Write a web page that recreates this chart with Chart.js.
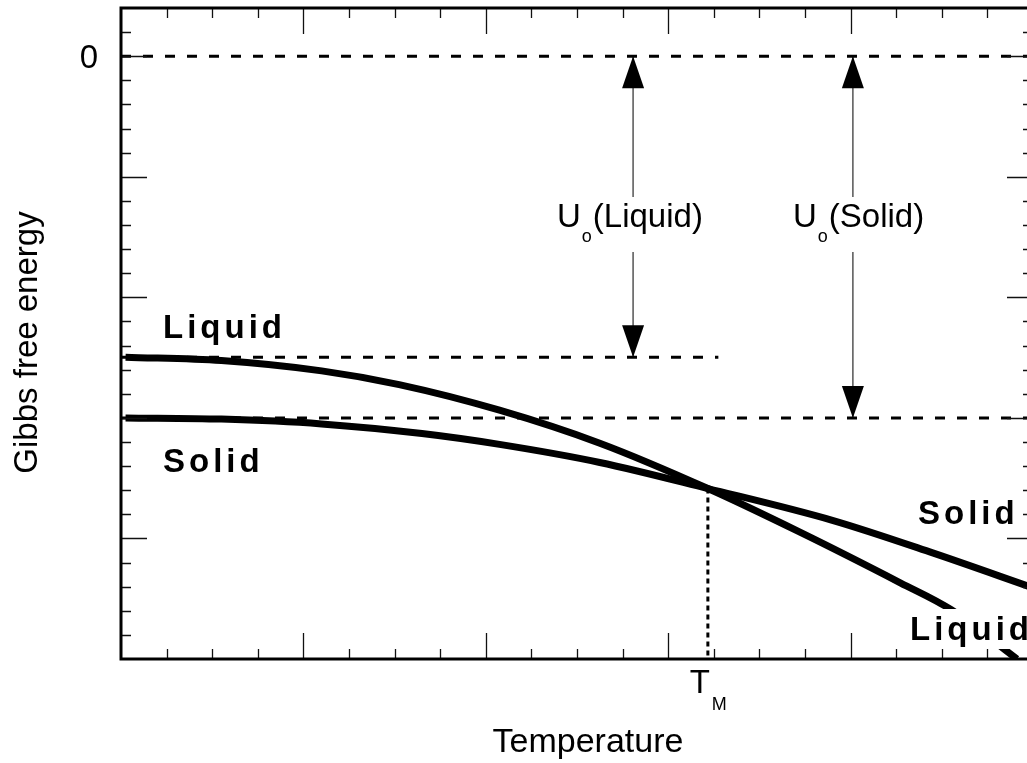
<!DOCTYPE html>
<html lang="en">
<head>
<meta charset="UTF-8">
<title>Gibbs free energy vs temperature</title>
<script src="https://cdn.jsdelivr.net/npm/chart.js"></script>
<style>
  html, body { margin: 0; padding: 0; background: #fff; overflow: hidden; }
  #wrap { width: 1040px; height: 763px; }
</style>
</head>
<body>
<div id="wrap"><canvas id="gibbs" width="1040" height="763"></canvas></div>
<script>
// curves (arbitrary units: temperature on x, free energy on y)
const liquidT = [0.1, 2.2, 4.4, 6.1, 8.3, 10.5, 12.87, 14.9, 17.1, 18.2, 19.65];
const liquidG = [-12.48, -12.62, -13.05, -13.62, -14.68, -16.05, -17.93, -19.75, -21.85, -22.95, -25.0];
const solidT = [0.1, 2.2, 4.4, 6.6, 8.3, 10.5, 12.87, 15.6, 17.8, 20];
const solidG = [-15.0, -15.05, -15.25, -15.65, -16.1, -16.85, -17.93, -19.25, -20.6, -22.05];

// reference levels
const zeroLevel = 0;
const liquidLevel = -12.48;
const solidLevel = -15;
const liquidLevelEnd = 13.1;
const meltT = 12.87;
const meltG = -17.93;
const arrowLiquidT = 11.23;
const arrowSolidT = 16.05;

// ticks
const xMajor = [4, 8, 12, 16];
const xMinor = [1, 2, 3, 5, 6, 7, 9, 10, 11, 13, 14, 15, 17, 18, 19];
const yMajor = [0, -5, -10, -15, -20];
const yMinor = [1, -1, -2, -3, -4, -6, -7, -8, -9, -11, -12, -13, -14, -16, -17, -18, -19, -21, -22, -23, -24];
const yLabelValues = [0];
const yLabelTexts = ['0'];

const FONT = '"Liberation Sans", Arial, Helvetica, sans-serif';

function pts(xs, ys) { return xs.map((x, i) => ({ x: x, y: ys[i] })); }

function spaced(ctx, text, x, y, gap) {
  for (const ch of text) {
    ctx.fillText(ch, x, y);
    x += ctx.measureText(ch).width + gap;
  }
  return x;
}

function boldLabel(ctx, text, x, y, bg) {
  ctx.font = 'bold 33px ' + FONT;
  ctx.textAlign = 'left';
  ctx.textBaseline = 'alphabetic';
  if (bg) {
    ctx.fillStyle = '#fff';
    ctx.fillRect(bg[0], bg[1], bg[2], bg[3]);
  }
  ctx.fillStyle = '#000';
  spaced(ctx, text, x, y, 4);
}

function uLabel(ctx, rest, x, y) {
  ctx.textAlign = 'left';
  ctx.textBaseline = 'alphabetic';
  ctx.font = '33px ' + FONT;
  const wU = ctx.measureText('U').width;
  ctx.font = '18px ' + FONT;
  const wo = ctx.measureText('o').width;
  ctx.font = '33px ' + FONT;
  const wr = ctx.measureText(rest).width;
  ctx.fillStyle = '#fff';
  ctx.fillRect(x - 4, y - 30, wU + wo + wr + 8, 55);
  ctx.fillStyle = '#000';
  ctx.fillText('U', x, y);
  ctx.font = '18px ' + FONT;
  ctx.fillText('o', x + wU + 1, y + 15);
  ctx.font = '33px ' + FONT;
  ctx.fillText(rest, x + wU + wo + 2, y);
}

const extras = {
  id: 'extras',
  afterDatasetsDraw(chart) {
    const ctx = chart.ctx;
    const xs = chart.scales.x, ys = chart.scales.y;
    const a = chart.chartArea;
    ctx.save();

    // arrowheads
    const heads = [
      [arrowLiquidT, zeroLevel, -1], [arrowLiquidT, liquidLevel, 1],
      [arrowSolidT, zeroLevel, -1], [arrowSolidT, solidLevel, 1]
    ];
    ctx.fillStyle = '#000';
    for (const [t, g, dir] of heads) {
      const px = xs.getPixelForValue(t), py = ys.getPixelForValue(g);
      ctx.beginPath();
      ctx.moveTo(px, py);
      ctx.lineTo(px - 11, py - dir * 32);
      ctx.lineTo(px + 11, py - dir * 32);
      ctx.closePath();
      ctx.fill();
    }

    // ticks
    ctx.strokeStyle = '#111';
    ctx.lineWidth = 1.3;
    ctx.beginPath();
    const tickX = (vals, len) => {
      for (const v of vals) {
        const px = Math.round(xs.getPixelForValue(v)) + 0.5;
        ctx.moveTo(px, a.bottom); ctx.lineTo(px, a.bottom - len);
        ctx.moveTo(px, a.top); ctx.lineTo(px, a.top + len);
      }
    };
    const tickY = (vals, len) => {
      for (const v of vals) {
        const py = Math.round(ys.getPixelForValue(v)) + 0.5;
        ctx.moveTo(a.left, py); ctx.lineTo(a.left + len, py);
        ctx.moveTo(a.right, py); ctx.lineTo(a.right - len, py);
      }
    };
    tickX(xMajor, 26); tickX(xMinor, 10);
    tickY(yMajor, 26); tickY(yMinor, 10);
    ctx.stroke();

    // frame
    ctx.strokeStyle = '#000';
    ctx.lineWidth = 3;
    ctx.strokeRect(a.left, a.top, a.right - a.left, a.bottom - a.top);

    // curve labels
    boldLabel(ctx, 'Liquid', 163, 338);
    boldLabel(ctx, 'Solid', 163, 472);
    boldLabel(ctx, 'Solid', 918, 524);
    boldLabel(ctx, 'Liquid', 910, 640, [905, 609, 135, 40]);

    // energy offsets
    uLabel(ctx, '(Liquid)', 557, 227);
    uLabel(ctx, '(Solid)', 793, 227);

    // y tick label
    ctx.fillStyle = '#000';
    ctx.font = '33px ' + FONT;
    ctx.textAlign = 'right';
    ctx.textBaseline = 'alphabetic';
    yLabelValues.forEach((v, i) => {
      ctx.fillText(yLabelTexts[i], 98, ys.getPixelForValue(v) + 12);
    });

    // T_M
    ctx.textAlign = 'left';
    const mx = xs.getPixelForValue(meltT);
    ctx.fillText('T', mx - 18, 693);
    ctx.font = '18px ' + FONT;
    ctx.fillText('M', mx + 4, 710);

    // axis titles
    ctx.font = '34px ' + FONT;
    ctx.textAlign = 'center';
    ctx.fillText('Temperature', (a.left + 1033) / 2 + 11, 752);
    ctx.translate(37, (a.top + a.bottom) / 2 + 9);
    ctx.rotate(-Math.PI / 2);
    ctx.font = '33px ' + FONT;
    ctx.fillText('Gibbs free energy', 0, 0);
    ctx.restore();
  }
};

const dashed = { borderColor: '#000', borderWidth: 3, borderDash: [10, 12], pointRadius: 0, fill: false };

new Chart(document.getElementById('gibbs'), {
  type: 'line',
  data: {
    datasets: [
      { label: 'Liquid', data: pts(liquidT, liquidG), borderColor: '#000', borderWidth: 7,
        pointRadius: 0, cubicInterpolationMode: 'monotone', fill: false },
      { label: 'Solid', data: pts(solidT, solidG), borderColor: '#000', borderWidth: 7,
        pointRadius: 0, cubicInterpolationMode: 'monotone', fill: false },
      Object.assign({ label: 'zero', data: [{ x: 0, y: zeroLevel }, { x: 20, y: zeroLevel }] }, dashed),
      Object.assign({ label: 'U liquid', data: [{ x: 0, y: liquidLevel }, { x: liquidLevelEnd, y: liquidLevel }] }, dashed),
      Object.assign({ label: 'U solid', data: [{ x: 0, y: solidLevel }, { x: 20, y: solidLevel }] }, dashed),
      { label: 'Tm', data: [{ x: meltT, y: meltG }, { x: meltT, y: -25 }], borderColor: '#000',
        borderWidth: 3, borderDash: [5, 4], pointRadius: 0, fill: false },
      { label: 'arrow L', data: [{ x: arrowLiquidT, y: zeroLevel }, { x: arrowLiquidT, y: liquidLevel }],
        borderColor: '#555', borderWidth: 1.5, pointRadius: 0, fill: false },
      { label: 'arrow S', data: [{ x: arrowSolidT, y: zeroLevel }, { x: arrowSolidT, y: solidLevel }],
        borderColor: '#555', borderWidth: 1.5, pointRadius: 0, fill: false }
    ]
  },
  options: {
    responsive: false,
    animation: false,
    events: [],
    layout: { padding: { left: 121, top: 8, right: 7, bottom: 104 } },
    plugins: { legend: { display: false }, tooltip: { enabled: false } },
    scales: {
      x: { type: 'linear', min: 0, max: 20, display: false },
      y: { type: 'linear', min: -25, max: 2, display: false }
    }
  },
  plugins: [extras]
});
</script>
</body>
</html>
